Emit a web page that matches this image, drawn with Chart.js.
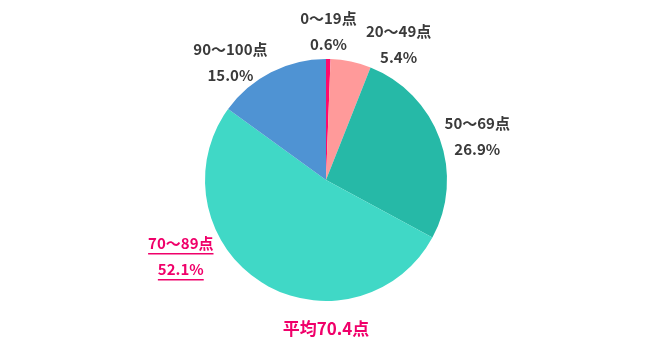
<!DOCTYPE html>
<html><head><meta charset="utf-8">
<script src="https://cdn.jsdelivr.net/npm/chart.js@4/dist/chart.umd.min.js"></script>
<style>html,body{margin:0;padding:0;background:#fff}#wrap{width:650px;height:347px;position:relative}</style>
</head><body><div id="wrap"><canvas id="c" width="650" height="347"></canvas></div>
<script>
const categories = ['0〜19点','20〜49点','50〜69点','70〜89点','90〜100点'];
const percents = [0.6, 5.4, 26.9, 52.1, 15.0];
const colors = ['#ff0a6c','#ff9a9a','#26b9a7','#40d8c6','#4f93d3'];
const highlightIndex = 3;
const averageLabel = '平均70.4点';
// label anchor offsets from pie centre, in units of the radius
const labelOffsets = [[0.02,-1.23],[0.60,-1.12],[1.25,-0.36],[-1.20,0.63],[-0.79,-0.97]];

const FONT = '"Noto Sans CJK JP","Noto Sans",sans-serif';
const labelPlugin = {
  id:'labels',
  afterDatasetsDraw(chart){
    const ctx = chart.ctx;
    const meta = chart.getDatasetMeta(0);
    const arc0 = meta.data[0];
    const cx = arc0.x, cy = arc0.y, r = arc0.outerRadius;
    ctx.save();
    ctx.textAlign='center'; ctx.textBaseline='middle';
    ctx.font = 'bold 15px '+FONT;
    categories.forEach((c,i)=>{
      const x = cx + labelOffsets[i][0]*r, y = cy + labelOffsets[i][1]*r;
      const col = i===highlightIndex ? '#f0006a' : '#3a3a3a';
      ctx.fillStyle = col;
      const t2 = percents[i].toFixed(1)+'%';
      ctx.fillText(c, x, y-13);
      ctx.fillText(t2, x, y+13);
      if(i===highlightIndex){
        ctx.strokeStyle=col; ctx.lineWidth=1.5;
        [[c,y-13],[t2,y+13]].forEach(([t,yy])=>{
          const w = ctx.measureText(t).width;
          ctx.beginPath(); ctx.moveTo(x-w/2, yy+10.5); ctx.lineTo(x+w/2, yy+10.5); ctx.stroke();
        });
      }
    });
    ctx.font = 'bold 17px '+FONT;
    ctx.fillStyle = '#f0006a';
    ctx.fillText(averageLabel, cx, cy + r + 28);
    ctx.restore();
  }
};

new Chart(document.getElementById('c'),{
  type:'pie',
  data:{labels:categories,datasets:[{data:percents,backgroundColor:colors,borderWidth:0}]},
  options:{
    responsive:false,animation:false,
    layout:{padding:{top:59,bottom:46,left:2,right:0}},
    plugins:{legend:{display:false},tooltip:{enabled:false}}
  },
  plugins:[labelPlugin]
});
</script></body></html>
